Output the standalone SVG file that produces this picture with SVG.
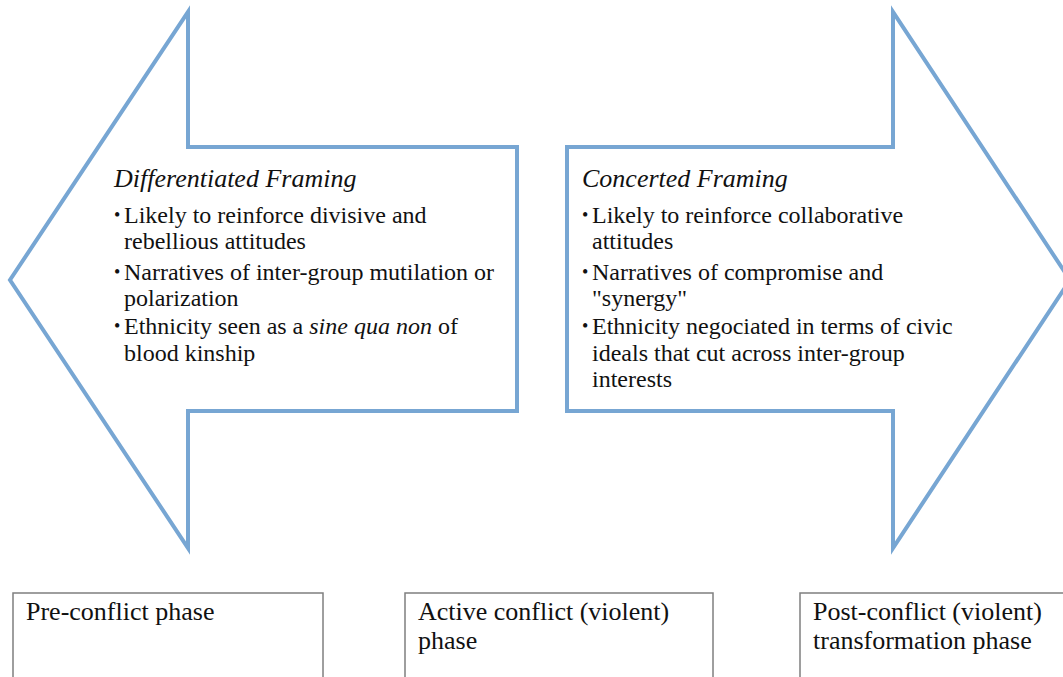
<svg xmlns="http://www.w3.org/2000/svg" width="1063" height="677" viewBox="0 0 1063 677">
  <style>
    .arrow { fill: #ffffff; stroke: #77a6d3; stroke-width: 4; stroke-linejoin: miter; }
    .box { fill: #ffffff; stroke: #7f7f7f; stroke-width: 1.5; }
    .t { font-size: 24px; fill: #111111; }
    .title { font-style: italic; font-size: 26px; }
    .bul { font-size: 18px; }
    .lbl { font-size: 26px; fill: #111111; }
  </style>
  <rect width="1063" height="677" fill="#ffffff"/>

  <!-- left-pointing arrow: differentiated framing -->
  <g id="differentiated-framing">
    <path class="arrow" d="M188 12 L188 147 L517 147 L517 411 L188 411 L188 548 L10 280 Z"/>
    <text class="t title" font-family="Liberation Serif" x="114" y="187">Differentiated Framing</text>
    <text class="t bul" font-family="Liberation Serif" x="114" y="221">•</text>
    <text class="t" font-family="Liberation Serif" x="124" y="223">Likely to reinforce divisive and</text>
    <text class="t" font-family="Liberation Serif" x="124" y="249">rebellious attitudes</text>
    <text class="t bul" font-family="Liberation Serif" x="114" y="278">•</text>
    <text class="t" font-family="Liberation Serif" x="124" y="280">Narratives of inter-group mutilation or</text>
    <text class="t" font-family="Liberation Serif" x="124" y="306">polarization</text>
    <text class="t bul" font-family="Liberation Serif" x="114" y="332">•</text>
    <text class="t" font-family="Liberation Serif" x="124" y="334">Ethnicity seen as a <tspan font-style="italic">sine qua non</tspan> of</text>
    <text class="t" font-family="Liberation Serif" x="124" y="361">blood kinship</text>
  </g>

  <!-- right-pointing arrow: concerted framing -->
  <g id="concerted-framing">
    <path class="arrow" d="M893 12 L893 147 L567 147 L567 411 L893 411 L893 548 L1070 280 Z"/>
    <text class="t title" font-family="Liberation Serif" x="582" y="187">Concerted Framing</text>
    <text class="t bul" font-family="Liberation Serif" x="582" y="221">•</text>
    <text class="t" font-family="Liberation Serif" x="592" y="223">Likely to reinforce collaborative</text>
    <text class="t" font-family="Liberation Serif" x="592" y="249">attitudes</text>
    <text class="t bul" font-family="Liberation Serif" x="582" y="278">•</text>
    <text class="t" font-family="Liberation Serif" x="592" y="280">Narratives of compromise and</text>
    <text class="t" font-family="Liberation Serif" x="592" y="306">"synergy"</text>
    <text class="t bul" font-family="Liberation Serif" x="582" y="332">•</text>
    <text class="t" font-family="Liberation Serif" x="592" y="334">Ethnicity negociated in terms of civic</text>
    <text class="t" font-family="Liberation Serif" x="592" y="361">ideals that cut across inter-group</text>
    <text class="t" font-family="Liberation Serif" x="592" y="387">interests</text>
  </g>

  <!-- phase boxes along the bottom -->
  <g id="pre-conflict">
    <rect class="box" x="13" y="593" width="310" height="120"/>
    <text class="lbl" font-family="Liberation Serif" x="26" y="620">Pre-conflict phase</text>
  </g>
  <g id="active-conflict">
    <rect class="box" x="405" y="593" width="308" height="120"/>
    <text class="lbl" font-family="Liberation Serif" x="418" y="620">Active conflict (violent)</text>
    <text class="lbl" font-family="Liberation Serif" x="418" y="649">phase</text>
  </g>
  <g id="post-conflict">
    <rect class="box" x="800" y="593" width="300" height="120"/>
    <text class="lbl" font-family="Liberation Serif" x="813" y="620">Post-conflict (violent)</text>
    <text class="lbl" font-family="Liberation Serif" x="813" y="649">transformation phase</text>
  </g>
</svg>
